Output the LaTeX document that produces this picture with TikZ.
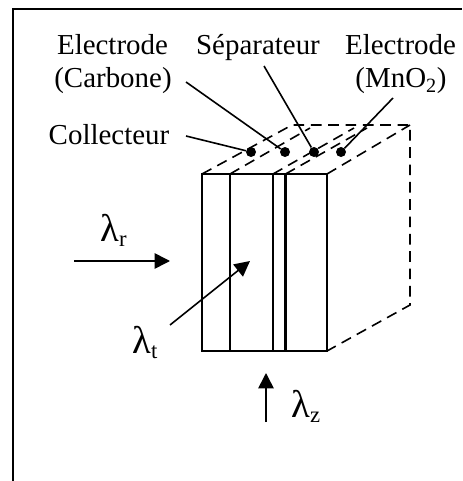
\documentclass[tikz,border=0pt]{standalone}
\usepackage{fontspec}
\setmainfont{Liberation Serif}
\usetikzlibrary{arrows.meta}
\newcommand{\lam}[1]{{\fontsize{29}{32}\selectfont λ}\raisebox{-3.75pt}{\fontsize{17}{20}\selectfont #1}}
\tikzset{
	wall/.style={line width=1.25pt},
	thickwall/.style={line width=1.7pt},
	hidden/.style={line width=1.2pt, dash pattern=on 8pt off 5pt},
	leader/.style={line width=1.2pt},
	flux/.style={line width=1.2pt, -{Triangle[length=11.5pt,width=11.5pt]}},
	dot/.style={circle, fill, inner sep=0pt, minimum size=7.5pt},
	lbl/.style={inner sep=0pt, anchor=base, font=\fontsize{21.7}{26}\selectfont},
	lamlbl/.style={inner sep=0pt, anchor=base west},
}
\begin{document}
\begin{tikzpicture}[x=0.75pt, y=-0.75pt]
	\useasboundingbox (0, 0) rectangle (462, 481);
	\draw[line width=1.4pt] (13, 481) -- (13, 9) -- (462, 9); % frame
% back edges
\coordinate (FrontA) at (202, 174);
\coordinate (FrontB) at (230, 174);
\coordinate (FrontC) at (273, 174);
\coordinate (FrontD) at (285.5, 174);
\coordinate (FrontE) at (327, 174);
\coordinate (BaseA) at (202, 351);
\coordinate (BaseB) at (230, 351);
\coordinate (BaseC) at (273, 351);
\coordinate (BaseD) at (285.5, 351);
\coordinate (BaseE) at (327, 351);
\coordinate (BackA) at (292, 125);
\coordinate (BackB) at (310, 128);
\coordinate (BackC) at (354, 128);
\coordinate (BackD) at (367, 128);
\coordinate (BackE) at (410, 125);
\coordinate (BackF) at (410, 305);
\draw[hidden] (FrontA) -- (BackA) -- (BackE) -- (BackF) -- (BaseE);
\draw[hidden] (FrontB) -- (BackB);
\draw[hidden] (FrontC) -- (BackC);
\draw[hidden] (FrontD) -- (BackD);
\draw[hidden] (FrontE) -- (BackE);
% front face
\draw[wall] (FrontA) -- (FrontE) -- (BaseE) -- (BaseA) -- cycle;
\draw[wall] (FrontB) -- (BaseB);
\draw[thickwall] (FrontC) -- (BaseC);
\draw[thickwall] (FrontD) -- (BaseD);
% labels
\node[lbl] (ElecC) at (112.5, 55) {Electrode};
\node[lbl] (Carb) at (113, 88) {(Carbone)};
\node[lbl] (Sep) at (258, 55) {Séparateur};
\node[lbl] (ElecM) at (400.5, 55) {Electrode};
\node[lbl] (Mno) at (401, 88) {(MnO\textsubscript{2})};
\node[lbl] (Coll) at (109, 144) {Collecteur};
\node[lamlbl] (LamR) at (100, 241) {\lam{r}};
\node[lamlbl] (LamT) at (132, 353) {\lam{t}};
\node[lamlbl] (LamZ) at (291, 417) {\lam{z}};
% dots and leaders
\node[dot] (DotColl) at (251, 152) {};
\node[dot] (DotCarb) at (285, 152) {};
\node[dot] (DotSep) at (314, 152) {};
\node[dot] (DotMno) at (341, 152) {};
\coordinate (FromColl) at (186, 136);
\coordinate (FromCarb) at (186, 82);
\coordinate (FromSep) at (264, 66);
\coordinate (FromMno) at (393, 98);
\draw[leader] (FromColl) -- (DotColl);
\draw[leader] (FromCarb) -- (DotCarb);
\draw[leader] (FromSep) -- (DotSep);
\draw[leader] (FromMno) -- (DotMno);
% heat flow arrows
\coordinate (TailR) at (74, 261);
\coordinate (HeadR) at (170, 261);
\coordinate (TailT) at (170, 325);
\coordinate (HeadT) at (250, 261);
\coordinate (TailZ) at (266, 422);
\coordinate (HeadZ) at (266, 373);
\draw[flux] (TailR) -- (HeadR);
\draw[flux] (TailT) -- (HeadT);
\draw[flux] (TailZ) -- (HeadZ);
	\end{tikzpicture}
\end{document}
